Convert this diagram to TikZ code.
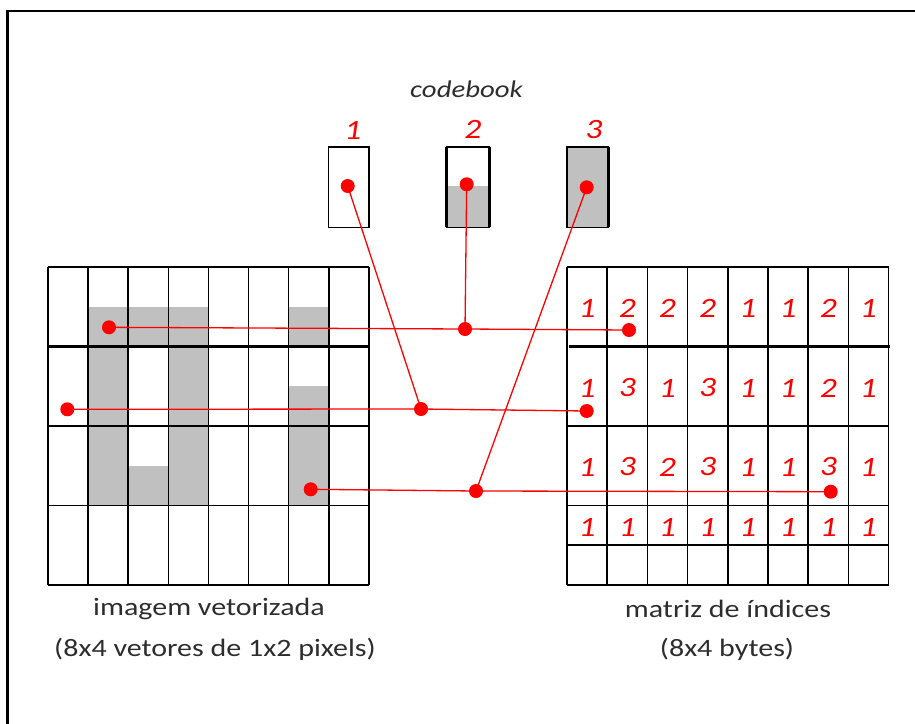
\documentclass[tikz,border=0pt]{standalone}
\usepackage{fontspec}
\setmainfont{Carlito}[FakeStretch=1.2]
\definecolor{pixgray}{RGB}{192,192,192}
\definecolor{inkgray}{RGB}{45,45,45}
\pgfdeclarelayer{grid}
\pgfdeclarelayer{links}
\pgfsetlayers{grid,links,main}
\begin{document}
\begin{tikzpicture}[x=1pt,y=-1pt,
  gridline/.style={line width=1.6pt, black},
  sepline/.style={line width=3.4pt, black},
  sideline/.style={line width=3pt, black},
  dot/.style={circle, fill=red, inner sep=0pt, minimum size=14pt},
  link/.style={red, line width=1.3pt},
  idx/.style={text=red, font=\fontsize{28}{28}\selectfont\itshape, inner sep=0pt},
  caption/.style={text=inkgray, font=\fontsize{25}{25}\selectfont, inner sep=0pt}]
\useasboundingbox (0,0) rectangle (915,723);
\clip (0,0) rectangle (915,723);

\begin{pgfonlayer}{grid}
  % outer frame (runs past the right and bottom edges)
  \draw[line width=2.4pt] (7.5,11) rectangle (960,760);

  % vectorised image: grey pixels
  \fill[pixgray] (88.1,306.75) rectangle (128.2,505.5);
  \fill[pixgray] (128.2,306.75) rectangle (168.3,346.5);
  \fill[pixgray] (128.2,465.75) rectangle (168.3,505.5);
  \fill[pixgray] (168.3,306.75) rectangle (208.4,505.5);
  \fill[pixgray] (288.6,306.75) rectangle (328.7,346.5);
  \fill[pixgray] (288.6,386.25) rectangle (328.7,505.5);

  % vectorised image: 8x4 grid of 1x2 vectors
  \foreach \i in {0,...,8}
    \draw[gridline] ({48+\i*40.1},267) -- ({48+\i*40.1},585);
  \foreach \yy in {267,426,505.5,585}
    \draw[gridline] (48,\yy) -- (368.8,\yy);
  \draw[sepline] (48,346.5) -- (368.8,346.5);

  % index matrix grid
  \foreach \i in {0,...,8}
    \draw[gridline] ({567+\i*40.2},267) -- ({567+\i*40.2},585);
  \foreach \yy in {267,426,505.5,545,585}
    \draw[gridline] (567,\yy) -- (888.6,\yy);
  \draw[sepline] (569,346.5) -- (890,346.5);

  % codebook entries
  \draw[gridline] (328.5,146.7) rectangle (369,227.3);
  \fill[pixgray] (446.7,186) rectangle (489,227.3);
  \draw[gridline] (446.7,146.7) rectangle (489,227.3);
  \draw[sideline] (446.7,146.7) -- (446.7,227.3);
  \draw[sideline] (489,146.7) -- (489,227.3);
  \fill[pixgray] (566.7,146.7) rectangle (608.3,227.3);
  \draw[gridline] (566.7,146.7) rectangle (608.3,227.3);
  \draw[sideline] (608.3,146.7) -- (608.3,227.3);
\end{pgfonlayer}

% index values
\foreach \row [count=\r] in {{1,2,2,2,1,1,2,1},{1,3,1,3,1,1,2,1},{1,3,2,3,1,1,3,1},{1,1,1,1,1,1,1,1}} {
  \pgfmathsetmacro\yy{{308,388,467,527}[\r-1]}
  \foreach \v [count=\c] in \row
    \node[idx] (n\r-\c) at ({567+(\c-0.5)*40.2},\yy) {\v};
}

% codebook labels
\node[text=inkgray, font=\fontsize{24}{24}\selectfont\itshape, inner sep=0pt] (cbtitle) at (466.5,89) {codebook};
\node[idx] (k1) at (353,130) {1};
\node[idx] (k2) at (473,129) {2};
\node[idx] (k3) at (594,130) {3};

% captions
\node[caption] (capL1) at (209,609) {imagem vetorizada};
\node[caption] (capL2) at (215,649) {(8x4 vetores de 1x2 pixels)};
\node[caption] (capR1) at (728,609) {matriz de índices};
\node[caption] (capR2) at (727,649) {(8x4 bytes)};

% mapping dots
\node[dot] (c1) at (347.7,186) {};
\node[dot] (c2) at (466.7,184.3) {};
\node[dot] (c3) at (586.7,187.3) {};
\node[dot] (a1) at (109,327.3) {};
\node[dot] (a2) at (67.3,409.3) {};
\node[dot] (a3) at (310.7,489.3) {};
\node[dot] (j1) at (421,409) {};
\node[dot] (j2) at (465,329) {};
\node[dot] (j3) at (476,491) {};
\node[dot] (r1) at (629,330) {};
\node[dot] (r2) at (586.7,411) {};
\node[dot] (r3) at (830.7,491.7) {};

\begin{pgfonlayer}{links}
  \draw[link] (a1.center) -- (j2.center) -- (r1.center);
  \draw[link] (a2.center) -- (j1.center) -- (r2.center);
  \draw[link] (a3.center) -- (j3.center) -- (r3.center);
  \draw[link] (c1.center) -- (j1.center);
  \draw[link] (c2.center) -- (j2.center);
  \draw[link] (c3.center) -- (j3.center);
\end{pgfonlayer}
\end{tikzpicture}
\end{document}
